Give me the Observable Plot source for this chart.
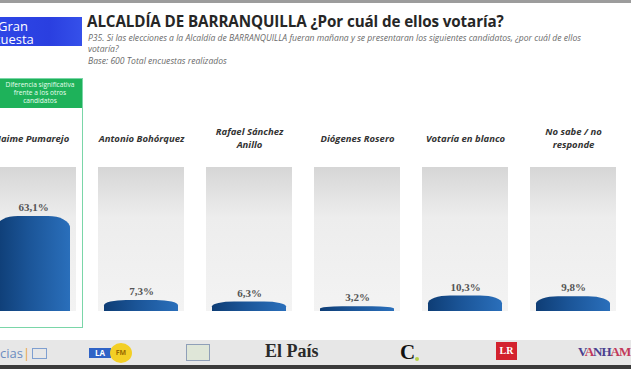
<!DOCTYPE html>
<html>
<head>
<meta charset="utf-8">
<script src="https://cdn.jsdelivr.net/npm/d3@7"></script>
<script src="https://cdn.jsdelivr.net/npm/@observablehq/plot@0.6"></script>
<style>
  html, body { margin: 0; padding: 0; background: #fff; }
  #wrap { position: relative; width: 631px; height: 369px; overflow: hidden; background: #fff; font-family: "Open Sans", "Noto Sans", sans-serif; }
  .abs { position: absolute; }
  #topline { left: 0; top: 0; width: 631px; height: 3px; background: #9c9c9c; }
  #brand { left: 0; top: 17px; width: 82px; height: 29px; background: linear-gradient(90deg, #2d46e6, #2a3fe0 60%, #3550ea); overflow: hidden; }
  #brand span { position: absolute; color: #fff; font-family: "Open Sans", sans-serif; font-size: 13px; line-height: 12px; font-weight: 400; }
  #title { left: 87px; top: 13px; font-size: 15.2px; line-height: 17px; font-weight: 700; color: #262626; white-space: nowrap; letter-spacing: -0.1px; }
  .sub { left: 88px; font-size: 8.6px; line-height: 10px; font-style: italic; color: #6a6a6a; white-space: nowrap; }
  #greenhead { left: 0; top: 78px; width: 83px; height: 30px; background: #1eb25a; color: #e9fff0; font-size: 6.6px; line-height: 8px; text-align: center; overflow: hidden; }
  #greenhead div { position: relative; left: -10px; padding-top: 3px; width: 100px; }
  #greenbox { left: -2px; top: 78px; width: 85px; height: 250px; border: 1.5px solid #7ad6a8; box-sizing: border-box; pointer-events: none; }
  #chart { left: 0; top: 112px; }
  #strip { left: 0; top: 340px; width: 631px; height: 25px; background: #e7e7e7; }
  #darkline { left: 0; top: 365px; width: 631px; height: 4px; background: #3b3b3b; }
  .logo { position: absolute; white-space: nowrap; }
</style>
</head>
<body>
<div id="wrap">
  <div class="abs" id="topline"></div>
  <div class="abs" id="brand"><span style="left:-2px;top:3px">Gran</span><span style="left:-21px;top:16px">Encuesta</span></div>
  <div class="abs" id="title">ALCALDÍA DE BARRANQUILLA ¿Por cuál de ellos votaría?</div>
  <div class="abs sub" style="top:33px">P35. Si las elecciones a la Alcaldía de BARRANQUILLA fueran mañana y se presentaran los siguientes candidatos, ¿por cuál de ellos</div>
  <div class="abs sub" style="top:44px">votaría?</div>
  <div class="abs sub" style="top:56px">Base: 600 Total encuestas realizados</div>
  <div class="abs" id="chart"></div>
  <div class="abs" id="greenhead"><div>Diferencia significativa<br>frente a los otros<br>candidatos</div></div>
  <div class="abs" id="greenbox"></div>
  <div class="abs" id="strip">
    <div class="logo" style="left:0;top:4px;font-size:13px;color:#6d8cc0;">cias<span style="color:#e9a23b">|</span><span style="display:inline-block;width:13px;height:9px;border:1.5px solid #7f9fd0;margin-left:2px;vertical-align:-1px;"></span></div>
    <div class="logo" style="left:89px;top:8px;width:22px;height:10px;background:#2f63c6;color:#fff;font-size:8px;font-weight:700;line-height:10px;text-align:center;">LA</div>
    <div class="logo" style="left:110px;top:3px;width:22px;height:20px;border-radius:50%;background:#f3cf25;color:#9a6b00;font-size:7px;font-weight:700;line-height:20px;text-align:center;">FM</div>
    <div class="logo" style="left:186px;top:4px;width:22px;height:15px;border:1.5px solid #8f9fb8;background:#dfe6d8;"></div>
    <div class="logo" style="left:265px;top:1px;font-family:'Liberation Serif','DejaVu Serif',serif;font-size:18px;font-weight:700;color:#2a2a2a;">El País</div>
    <div class="logo" style="left:400px;top:0px;font-family:'Liberation Serif',serif;font-size:21px;font-weight:700;color:#111;">C<span style="display:inline-block;width:4px;height:4px;border-radius:50%;background:#b6d04a;vertical-align:-2px;"></span></div>
    <div class="logo" style="left:496px;top:2px;width:21px;height:18px;background:#d3222e;color:#fff;font-family:'Liberation Serif',serif;font-size:10px;font-weight:700;line-height:18px;text-align:center;">LR</div>
    <div class="logo" style="left:578px;top:4px;font-family:'Liberation Serif',serif;font-size:13px;font-weight:700;letter-spacing:-1px;"><span style="color:#4a3f8f">V</span><span style="color:#c2395a">A</span><span style="color:#4a3f8f">NH</span><span style="color:#c2395a">AM</span></div>
  </div>
  <div class="abs" id="darkline"></div>
</div>
<script>
// ---- data ----
const candidatos = ["Jaime Pumarejo", "Antonio Bohórquez", "Rafael Sánchez\nAnillo", "Diógenes Rosero", "Votaría en blanco", "No sabe / no\nresponde"];
const valores = [63.1, 7.3, 6.3, 3.2, 10.3, 9.8];
const yMax = 95.6; // top of the grey track

const data = candidatos.map((c, i) => ({candidato: c, valor: valores[i]}));
const fmt = v => d3.format(".1f")(v).replace(".", ",") + "%";

const defs = () => {
  const g = d3.create("svg:defs");
  const b = g.append("linearGradient").attr("id", "barGrad").attr("x1", 0).attr("x2", 1).attr("y1", 0).attr("y2", 0);
  b.append("stop").attr("offset", "0%").attr("stop-color", "#0e3d75");
  b.append("stop").attr("offset", "45%").attr("stop-color", "#1b5598");
  b.append("stop").attr("offset", "100%").attr("stop-color", "#2a6fbb");
  const t = g.append("linearGradient").attr("id", "trackGrad").attr("x1", 0).attr("x2", 0).attr("y1", 0).attr("y2", 1);
  t.append("stop").attr("offset", "0%").attr("stop-color", "#d6d6d6");
  t.append("stop").attr("offset", "35%").attr("stop-color", "#ededed");
  t.append("stop").attr("offset", "100%").attr("stop-color", "#f3f3f3");
  return g.node();
};

const chart = Plot.plot({
  width: 631,
  height: 218,
  marginTop: 55,
  marginBottom: 19,
  marginLeft: 0,
  marginRight: 0,
  style: {background: "transparent", overflow: "visible"},
  x: {domain: candidatos, range: [-33, 639], padding: 0.2, axis: null},
  y: {domain: [0, yMax], axis: null},
  marks: [
    defs,
    Plot.barY(data, {x: "candidato", y1: 0, y2: () => yMax, fill: "url(#trackGrad)"}),
    Plot.barY(data, {x: "candidato", y: "valor", fill: "url(#barGrad)", insetLeft: 6, insetRight: 6, rx: 22, ry: 12}),
    Plot.barY(data, {x: "candidato", y1: 0, y2: d => d.valor / 2, fill: "url(#barGrad)", insetLeft: 6, insetRight: 6}),
    Plot.text(data, {x: "candidato", y: "valor", text: d => fmt(d.valor), dy: -9, fontSize: 11, fontWeight: 700, fill: "#555", fontFamily: "Liberation Serif, serif"}),
    Plot.text(data, {x: "candidato", frameAnchor: "top", dy: -30, text: "candidato", lineAnchor: "middle", lineHeight: 1.35, fontSize: 9.5, fontWeight: 700, fontStyle: "italic", fill: "#333", fontFamily: "Open Sans, sans-serif"})
  ]
});
document.getElementById("chart").appendChild(chart);
</script>
</body>
</html>
